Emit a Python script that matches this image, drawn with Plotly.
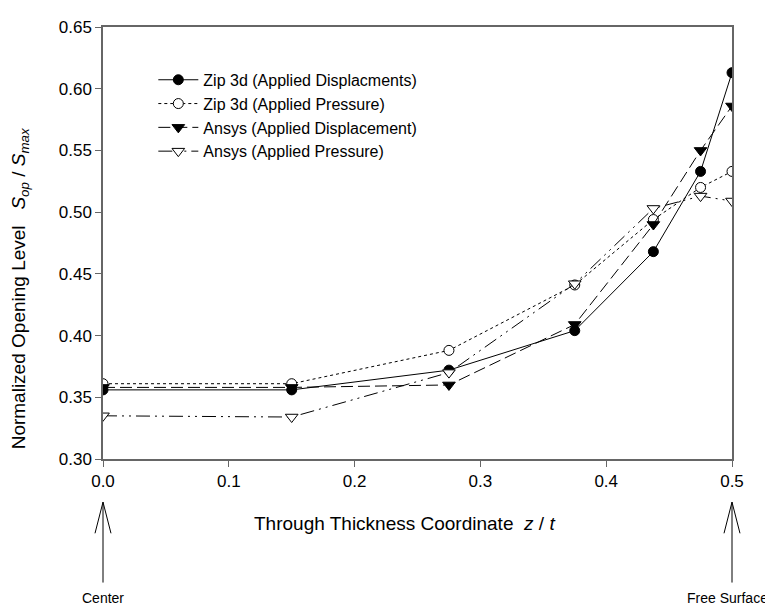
import plotly.graph_objects as go

z = [0.0, 0.15, 0.275, 0.375, 0.4375, 0.475, 0.5]
zip_disp = [0.356, 0.356, 0.372, 0.404, 0.468, 0.533, 0.613]
zip_pres = [0.361, 0.361, 0.388, 0.441, 0.494, 0.520, 0.533]
ansys_disp = [0.358, 0.358, 0.360, 0.409, 0.490, 0.550, 0.586]
ansys_pres = [0.335, 0.334, 0.370, 0.442, 0.503, 0.513, 0.509]

names = ["Zip 3d (Applied Displacments)", "Zip 3d (Applied Pressure)",
         "Ansys (Applied Displacement)", "Ansys (Applied Pressure)"]
x_ticks = [0.0, 0.1, 0.2, 0.3, 0.4, 0.5]
y_ticks = [0.30, 0.35, 0.40, 0.45, 0.50, 0.55, 0.60, 0.65]

FONT = "Liberation Sans, Arial, sans-serif"
AX = "#666666"

fig = go.Figure()
fig.add_trace(go.Scatter(x=z, y=zip_disp, name=names[0], mode="lines+markers",
                         line=dict(color="black", width=1, dash="solid"),
                         marker=dict(symbol="circle", size=10, color="black",
                                     line=dict(color="black", width=1))))
fig.add_trace(go.Scatter(x=z, y=zip_pres, name=names[1], mode="lines+markers",
                         line=dict(color="black", width=1, dash="dot"),
                         marker=dict(symbol="circle", size=10, color="white",
                                     line=dict(color="black", width=1))))
fig.add_trace(go.Scatter(x=z, y=ansys_disp, name=names[2], mode="lines+markers",
                         line=dict(color="black", width=1, dash="12px,5px"),
                         marker=dict(symbol="triangle-down", size=11, color="black",
                                     line=dict(color="black", width=1))))
fig.add_trace(go.Scatter(x=z, y=ansys_pres, name=names[3], mode="lines+markers",
                         line=dict(color="black", width=1, dash="14px,5px,2px,5px,2px,5px"),
                         marker=dict(symbol="triangle-down", size=11, color="white",
                                     line=dict(color="black", width=1))))

# arrows below the axis (paper coordinates)
shapes = []
wing = 0.0127
for xv in [0.0, 1.0]:
    shapes.append(dict(type="line", xref="paper", yref="paper", x0=xv, x1=xv, y0=-0.286, y1=-0.0998,
                       line=dict(color="black", width=1)))
    shapes.append(dict(type="line", xref="paper", yref="paper", x0=xv - wing, x1=xv, y0=-0.172, y1=-0.0998,
                       line=dict(color="black", width=1)))
    shapes.append(dict(type="line", xref="paper", yref="paper", x0=xv + wing, x1=xv, y0=-0.172, y1=-0.0998,
                       line=dict(color="black", width=1)))

annotations = [
    dict(text="Center", x=0.0, xref="paper", y=-0.322, yref="paper", showarrow=False,
         font=dict(family=FONT, size=14, color="black"), xanchor="center", yanchor="middle"),
    dict(text="Free Surface", x=1.061, xref="paper", y=-0.322, yref="paper", showarrow=False,
         font=dict(family=FONT, size=14, color="black"), xanchor="right", yanchor="middle"),
    dict(text="Through Thickness Coordinate  <i>z</i> / <i>t</i>", x=0.480, xref="paper",
         y=-0.150, yref="paper", showarrow=False,
         font=dict(family=FONT, size=19, color="black"), xanchor="center", yanchor="middle"),
    dict(text="Normalized Opening Level   <i>S</i><sub><i>op</i></sub> / <i>S</i><sub><i>max</i></sub>",
         x=-0.132, xref="paper", y=0.395, yref="paper", showarrow=False, textangle=-90,
         font=dict(family=FONT, size=19, color="black"), xanchor="center", yanchor="middle"),
]

fig.update_layout(
    width=765, height=600,
    margin=dict(l=95, r=41, t=10, b=149),
    paper_bgcolor="white", plot_bgcolor="white",
    font=dict(family=FONT, size=17, color="black"),
    showlegend=True,
    legend=dict(x=0.08, y=0.917, xanchor="left", yanchor="top",
                bgcolor="rgba(0,0,0,0)", font=dict(family=FONT, size=16, color="black"),
                tracegroupgap=0, itemwidth=40),
    shapes=shapes,
    annotations=annotations,
    xaxis=dict(range=[0, 0.5], tickvals=x_ticks, ticktext=["%.1f" % v for v in x_ticks],
               showgrid=False, zeroline=False, showline=True, linecolor=AX, linewidth=1.5,
               mirror=True, ticks="outside", ticklen=6, tickcolor=AX,
               tickfont=dict(family=FONT, size=17, color="black")),
    yaxis=dict(range=[0.30, 0.65], tickvals=y_ticks, ticktext=["%.2f" % v for v in y_ticks],
               showgrid=False, zeroline=False, showline=True, linecolor=AX, linewidth=1.5,
               mirror=True, ticks="outside", ticklen=6, tickcolor=AX,
               tickfont=dict(family=FONT, size=17, color="black")),
)

fig.write_html("out.html")
